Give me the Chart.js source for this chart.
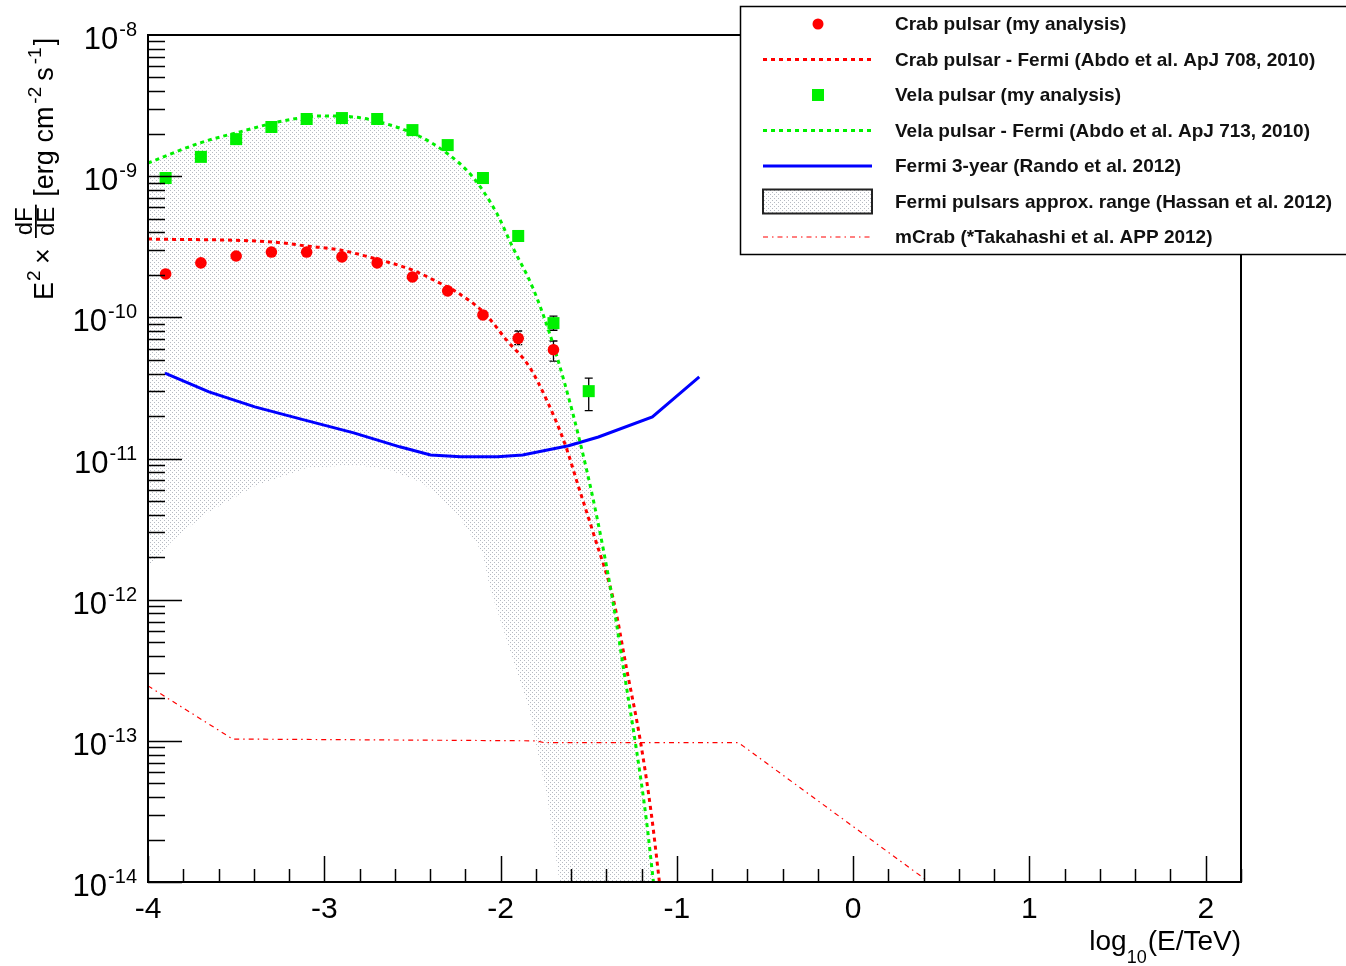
<!DOCTYPE html>
<html>
<head>
<meta charset="utf-8">
<script src="https://cdn.jsdelivr.net/npm/chart.js@4.4.1/dist/chart.umd.min.js"></script>
<style>
  html, body { margin: 0; padding: 0; background: #fff; }
  canvas { display: block; }
</style>
</head>
<body>
<canvas id="sed" width="1346" height="966"></canvas>
<script>
// ---- data (x = log10(E/TeV), y = E^2 dF/dE in erg cm^-2 s^-1) ----
const crabX = [-3.9, -3.7, -3.5, -3.3, -3.1, -2.9, -2.7, -2.5, -2.3, -2.1, -1.9, -1.7];
const crabY = [2.03e-10, 2.43e-10, 2.72e-10, 2.9e-10, 2.9e-10, 2.68e-10, 2.43e-10, 1.93e-10, 1.54e-10, 1.04e-10, 7.1e-11, 5.9e-11];
const crabErrLo = [null, null, null, null, null, null, null, null, null, null, 6.4e-11, 4.9e-11];
const crabErrHi = [null, null, null, null, null, null, null, null, null, null, 8.0e-11, 6.8e-11];

const velaX = [-3.9, -3.7, -3.5, -3.3, -3.1, -2.9, -2.7, -2.5, -2.3, -2.1, -1.9, -1.7, -1.5];
const velaY = [9.7e-10, 1.37e-9, 1.83e-9, 2.23e-9, 2.54e-9, 2.58e-9, 2.54e-9, 2.12e-9, 1.66e-9, 9.7e-10, 3.77e-10, 9.1e-11, 3.0e-11];
const velaErrLo = [null, null, null, null, null, null, null, null, null, null, null, 8.1e-11, 2.18e-11];
const velaErrHi = [null, null, null, null, null, null, null, null, null, null, null, 1.02e-10, 3.71e-11];

const crabFermiX = [-4.0, -3.297, -3.099, -2.912, -2.725, -2.499, -2.346, -2.249, -2.091, -1.966, -1.836, -1.739, -1.637, -1.552, -1.467, -1.36, -1.286, -1.207, -1.144, -1.099];
const crabFermiY = [3.59e-10, 3.42e-10, 3.2e-10, 3.0e-10, 2.63e-10, 2.16e-10, 1.75e-10, 1.51e-10, 1.07e-10, 6.9e-11, 4.45e-11, 2.6e-11, 1.29e-11, 5.98e-12, 2.78e-12, 1.0e-12, 3.28e-13, 9.97e-14, 2.98e-14, 1.0e-14];

const velaFermiX = [-4.0, -3.705, -3.479, -3.235, -3.008, -2.839, -2.686, -2.476, -2.306, -2.159, -2.023, -1.932, -1.819, -1.722, -1.637, -1.552, -1.462, -1.365, -1.297, -1.229, -1.173, -1.133];
const velaFermiY = [1.24e-9, 1.72e-9, 2.06e-9, 2.46e-9, 2.67e-9, 2.63e-9, 2.42e-9, 1.96e-9, 1.46e-9, 9.9e-10, 5.5e-10, 3.15e-10, 1.64e-10, 7.7e-11, 3.43e-11, 1.35e-11, 4.32e-12, 1.0e-12, 2.93e-13, 8.6e-14, 2.75e-14, 1.0e-14];

const randoX = [-3.904, -3.654, -3.394, -3.11, -2.833, -2.572, -2.397, -2.227, -2.017, -1.875, -1.615, -1.445, -1.139, -0.873];
const randoY = [4.03e-11, 2.96e-11, 2.32e-11, 1.87e-11, 1.52e-11, 1.21e-11, 1.06e-11, 1.03e-11, 1.03e-11, 1.06e-11, 1.23e-11, 1.42e-11, 1.97e-11, 3.78e-11];

const mcrabX = [-4.0, -3.52, -1.8, -1.75, -0.65, 0.43];
const mcrabY = [2.45e-13, 1.03e-13, 1.0e-13, 9.7e-14, 9.7e-14, 1.0e-14];

// Hassan range: upper edge runs along the Vela Fermi curve, lower edge below
const hassanLowerX = [-4.0, -3.858, -3.666, -3.382, -3.099, -2.816, -2.629, -2.442, -2.249, -2.102, -2.062, -1.989, -1.836, -1.796, -1.739, -1.666];
const hassanLowerY = [1.7e-12, 2.65e-12, 4.11e-12, 6.49e-12, 8.57e-12, 9.0e-12, 8.3e-12, 6.7e-12, 4.11e-12, 2.14e-12, 1.23e-12, 6.4e-13, 1.65e-13, 9.0e-14, 4.27e-14, 1.0e-14];

const xTickLabels = [-4, -3, -2, -1, 0, 1, 2];
const yDecades = [-14, -13, -12, -11, -10, -9, -8];

const legendLabels = [
  'Crab pulsar (my analysis)',
  'Crab pulsar - Fermi (Abdo et al. ApJ 708, 2010)',
  'Vela pulsar (my analysis)',
  'Vela pulsar - Fermi (Abdo et al. ApJ 713, 2010)',
  'Fermi 3-year (Rando et al. 2012)',
  'Fermi pulsars approx. range (Hassan et al. 2012)',
  'mCrab (*Takahashi et al. APP 2012)',
];

const FONT = '"Liberation Sans", Arial, Helvetica, sans-serif';
const RED = '#ff0000';
const GREEN = '#00f000';
const BLUE = '#0000ff';

const pts = (xs, ys) => xs.map((x, i) => ({ x, y: ys[i] }));

// dotted grey fill pattern
const tile = document.createElement('canvas');
tile.width = 4;
tile.height = 4;
const tctx = tile.getContext('2d');
tctx.fillStyle = '#b6bac2';
tctx.fillRect(0, 0, 1, 1);
tctx.fillRect(2, 2, 1, 1);
const dots = tctx.createPattern(tile, 'repeat');

const hassanPoly = pts(velaFermiX, velaFermiY)
  .concat(pts(hassanLowerX, hassanLowerY).reverse());

// error bars, drawn under the markers
const errorBars = {
  id: 'errorBars',
  beforeDatasetsDraw(chart) {
    const { ctx, scales: { x, y } } = chart;
    ctx.save();
    ctx.strokeStyle = '#000';
    ctx.lineWidth = 1.3;
    const draw = (xs, lo, hi) => {
      xs.forEach((v, i) => {
        if (lo[i] == null) return;
        const px = x.getPixelForValue(v);
        const y0 = y.getPixelForValue(lo[i]);
        const y1 = y.getPixelForValue(hi[i]);
        ctx.beginPath();
        ctx.moveTo(px, y0); ctx.lineTo(px, y1);
        ctx.moveTo(px - 4, y0); ctx.lineTo(px + 4, y0);
        ctx.moveTo(px - 4, y1); ctx.lineTo(px + 4, y1);
        ctx.stroke();
      });
    };
    draw(crabX, crabErrLo, crabErrHi);
    draw(velaX, velaErrLo, velaErrHi);
    ctx.restore();
  },
};

// ROOT-like frame, inward ticks and labels
const frameAxes = {
  id: 'frameAxes',
  afterDatasetsDraw(chart) {
    const { ctx, chartArea: a, scales: { x, y } } = chart;
    ctx.save();
    ctx.strokeStyle = '#000';
    ctx.lineWidth = 1.5;
    ctx.beginPath();
    for (let i = 0; i <= 31; i++) {
      const v = -4 + i * 0.2;
      const px = Math.round(x.getPixelForValue(v)) + 0.5;
      const len = i % 5 === 0 ? 26 : 13;
      ctx.moveTo(px, a.bottom);
      ctx.lineTo(px, a.bottom - len);
    }
    for (let e = -14; e < -8; e++) {
      for (let m = 1; m <= 9; m++) {
        const py = Math.round(y.getPixelForValue(m * Math.pow(10, e))) + 0.5;
        const len = m === 1 ? 34 : 17;
        ctx.moveTo(a.left, py);
        ctx.lineTo(a.left + len, py);
      }
    }
    ctx.stroke();
    ctx.lineWidth = 2;
    ctx.strokeRect(a.left, a.top, a.right - a.left, a.bottom - a.top);

    ctx.fillStyle = '#000';
    // x tick labels
    ctx.font = '30px ' + FONT;
    ctx.textAlign = 'center';
    ctx.textBaseline = 'alphabetic';
    xTickLabels.forEach((v) => {
      ctx.fillText(v < 0 ? '-' + Math.abs(v) : String(v), x.getPixelForValue(v), a.bottom + 36);
    });
    // y tick labels 10^n
    ctx.textAlign = 'left';
    yDecades.forEach((e) => {
      const py = y.getPixelForValue(Math.pow(10, e));
      ctx.font = '20px ' + FONT;
      const ex = '-' + Math.abs(e);
      const we = ctx.measureText(ex).width;
      ctx.fillText(ex, 137 - we, py + 1);
      ctx.font = '31px ' + FONT;
      const wb = ctx.measureText('10').width;
      ctx.fillText('10', 137 - we - wb - 1, py + 14);
    });
    // x title
    ctx.font = '28px ' + FONT;
    const wTail = ctx.measureText('(E/TeV)').width;
    const wLog = ctx.measureText('log').width;
    ctx.font = '18px ' + FONT;
    const wSub = ctx.measureText('10').width;
    const tx = a.right - wTail;
    ctx.font = '28px ' + FONT;
    ctx.fillText('(E/TeV)', tx, 950);
    ctx.font = '18px ' + FONT;
    ctx.fillText('10', tx - wSub - 1, 963);
    ctx.font = '28px ' + FONT;
    ctx.fillText('log', tx - wSub - 1 - wLog, 950);

    // y title, rotated
    ctx.translate(53, 300);
    ctx.rotate(-Math.PI / 2);
    const big = '27px ' + FONT;
    const sup = '19px ' + FONT;
    const frac = '24px ' + FONT;
    ctx.font = big; ctx.fillText('E', 0, 0);
    ctx.font = sup; ctx.fillText('2', 19, -13);
    ctx.font = big; ctx.fillText('\u00d7', 36, -1);
    ctx.font = frac;
    const wn = ctx.measureText('dF').width;
    const wd = ctx.measureText('dE').width;
    const fw = Math.max(wn, wd) + 4;
    ctx.fillRect(62, -18, fw, 1.8);
    ctx.fillText('dF', 62 + (fw - wn) / 2, -21);
    ctx.fillText('dE', 62 + (fw - wd) / 2, 1);
    let t = 62 + fw + 8;
    ctx.font = big; ctx.fillText('[erg cm', t, 0); t += ctx.measureText('[erg cm').width + 3;
    ctx.font = sup; ctx.fillText('-2', t, -12); t += ctx.measureText('-2').width + 6;
    ctx.font = big; ctx.fillText('s', t, 0); t += ctx.measureText('s').width + 3;
    ctx.font = sup; ctx.fillText('-1', t, -12); t += ctx.measureText('-1').width + 2;
    ctx.font = big; ctx.fillText(']', t, 0);
    ctx.restore();
  },
};

// legend box in the top right corner
const boxLegend = {
  id: 'boxLegend',
  afterDraw(chart) {
    const { ctx } = chart;
    ctx.save();
    ctx.fillStyle = '#fff';
    ctx.fillRect(740, 6, 620, 249);
    ctx.strokeStyle = '#000';
    ctx.lineWidth = 1.5;
    ctx.strokeRect(740.5, 6.5, 620, 248);
    const x0 = 763, x1 = 872, xm = 818;
    legendLabels.forEach((label, i) => {
      const cy = 24 + i * 35.5;
      ctx.save();
      if (i === 0) {
        ctx.fillStyle = RED;
        ctx.beginPath(); ctx.arc(xm, cy, 5.5, 0, Math.PI * 2); ctx.fill();
      } else if (i === 2) {
        ctx.fillStyle = GREEN;
        ctx.fillRect(xm - 6, cy - 6, 12, 12);
      } else if (i === 5) {
        ctx.fillStyle = dots;
        ctx.fillRect(x0, cy - 12, x1 - x0, 24);
        ctx.strokeStyle = '#222';
        ctx.lineWidth = 2;
        ctx.strokeRect(x0, cy - 12, x1 - x0, 24);
      } else {
        const style = {
          1: { c: RED, w: 3, d: [4, 4] },
          3: { c: GREEN, w: 3, d: [4, 4] },
          4: { c: BLUE, w: 3, d: [] },
          6: { c: RED, w: 1.2, d: [5, 4, 1.5, 4] },
        }[i];
        ctx.strokeStyle = style.c;
        ctx.lineWidth = style.w;
        ctx.setLineDash(style.d);
        ctx.beginPath(); ctx.moveTo(x0, cy); ctx.lineTo(x1, cy); ctx.stroke();
      }
      ctx.restore();
      ctx.fillStyle = '#111';
      ctx.font = 'bold 19px ' + FONT;
      ctx.textAlign = 'left';
      ctx.textBaseline = 'middle';
      ctx.fillText(label, 895, cy + 1);
    });
    ctx.restore();
  },
};

const chart = new Chart(document.getElementById('sed'), {
  type: 'scatter',
  data: {
    datasets: [
      // first dataset is drawn on top
      {
        label: legendLabels[2],
        data: pts(velaX, velaY),
        showLine: false,
        pointStyle: 'rect',
        pointRadius: 8.5,
        pointBackgroundColor: GREEN,
        pointBorderWidth: 0,
      },
      {
        label: legendLabels[0],
        data: pts(crabX, crabY),
        showLine: false,
        pointStyle: 'circle',
        pointRadius: 5.8,
        pointBackgroundColor: RED,
        pointBorderWidth: 0,
      },
      {
        label: legendLabels[3],
        data: pts(velaFermiX, velaFermiY),
        showLine: true,
        borderColor: GREEN,
        borderWidth: 3,
        borderDash: [4, 4],
        pointRadius: 0,
        cubicInterpolationMode: 'monotone',
      },
      {
        label: legendLabels[1],
        data: pts(crabFermiX, crabFermiY),
        showLine: true,
        borderColor: RED,
        borderWidth: 3,
        borderDash: [4, 4],
        pointRadius: 0,
        cubicInterpolationMode: 'monotone',
      },
      {
        label: legendLabels[4],
        data: pts(randoX, randoY),
        showLine: true,
        borderColor: BLUE,
        borderWidth: 3,
        pointRadius: 0,
        tension: 0,
      },
      {
        label: legendLabels[6],
        data: pts(mcrabX, mcrabY),
        showLine: true,
        borderColor: RED,
        borderWidth: 1.2,
        borderDash: [5, 4, 1.5, 4],
        pointRadius: 0,
        tension: 0,
      },
      {
        label: legendLabels[5],
        data: hassanPoly,
        showLine: true,
        borderColor: 'rgba(0,0,0,0)',
        borderWidth: 1,
        backgroundColor: dots,
        fill: 'shape',
        pointRadius: 0,
        tension: 0,
      },
    ],
  },
  options: {
    responsive: false,
    devicePixelRatio: 1,
    animation: false,
    layout: { padding: { left: 148, right: 105, top: 35, bottom: 84 } },
    scales: {
      x: { type: 'linear', min: -4, max: 2.2, display: false },
      y: { type: 'logarithmic', min: 1e-14, max: 1e-8, display: false },
    },
    plugins: {
      legend: { display: false },
      tooltip: { enabled: false },
      title: { display: false },
    },
  },
  plugins: [errorBars, frameAxes, boxLegend],
});
</script>
</body>
</html>
